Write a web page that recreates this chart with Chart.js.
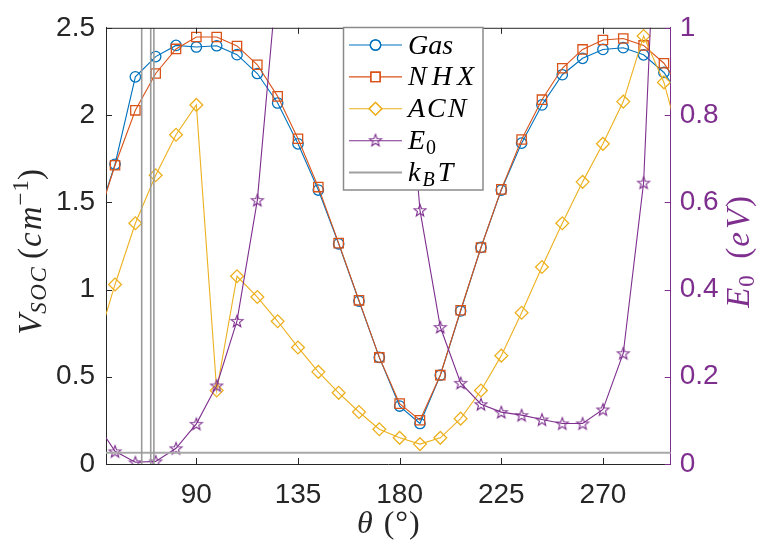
<!DOCTYPE html>
<html>
<head>
<meta charset="utf-8">
<script src="https://cdn.jsdelivr.net/npm/chart.js@4/dist/chart.umd.min.js"></script>
<style>html,body{margin:0;padding:0;background:#fff;overflow:hidden}canvas{display:block}</style>
</head>
<body>
<canvas id="c" width="761" height="544"></canvas>
<script>
// ---- data ----
const theta = [45,54,63,72,81,90,99,108,117,126,135,144,153,162,171,180,189,198,207,216,225,234,243,252,261,270,279,288,297,306];
const gas = [1.36,1.718,2.219,2.335,2.399,2.390,2.397,2.346,2.238,2.069,1.835,1.570,1.262,0.934,0.611,0.332,0.232,0.509,0.877,1.241,1.570,1.839,2.058,2.231,2.325,2.376,2.386,2.345,2.244,2.07];
const nhx = [1.35,1.712,2.027,2.238,2.379,2.447,2.447,2.396,2.288,2.107,1.864,1.587,1.266,0.938,0.611,0.346,0.251,0.509,0.881,1.241,1.574,1.860,2.088,2.268,2.376,2.430,2.439,2.399,2.297,2.12];
const acn = [0.644,1.029,1.380,1.655,1.887,2.058,0.421,1.076,0.957,0.818,0.668,0.528,0.408,0.298,0.199,0.150,0.114,0.150,0.260,0.421,0.621,0.867,1.129,1.380,1.617,1.835,2.077,2.453,2.187,1.76];
const e0 = [0.099,0.029,0.004,0.006,0.036,0.092,0.180,0.328,0.605,1.13,null,null,null,null,null,1.14,0.582,0.314,0.186,0.137,0.119,0.112,0.102,0.093,0.093,0.125,0.254,0.645,1.72,null];
const kbtX = [45, 306];
const kbtY = [0.026, 0.026];
const kbtLineX = [65.8, 69.8, 71.2];
const kbtLineY = [0, 1];
const xTicks = [90,135,180,225,270];
const xTickLabels = ['90','135','180','225','270'];
const yTicks = [0,0.5,1,1.5,2,2.5];
const yTickLabels = ['0','0.5','1','1.5','2','2.5'];
const y2Ticks = [0,0.2,0.4,0.6,0.8,1];
const y2TickLabels = ['0','0.2','0.4','0.6','0.8','1'];

// ---- styles ----
const C_GAS='#0072BD', C_NHX='#D95319', C_ACN='#EDB120', C_E0='#7E2F8E', C_KBT='#a8a8a8', C_AX='#262626';
const TICK_FONT = {family:'"Liberation Sans", Arial, sans-serif', size:28};
const SERIF = '"Liberation Serif", "Times New Roman", serif';

function makeStar(r, color){
  const s = 16; const c = document.createElement('canvas'); c.width = s; c.height = s;
  const g = c.getContext('2d'); g.strokeStyle = color; g.lineWidth = 1.1; g.beginPath();
  for (let i=0;i<10;i++){ const a = -Math.PI/2 + i*Math.PI/5; const rr = (i%2) ? r*0.42 : r;
    const px = s/2 + rr*Math.cos(a), py = s/2 + 0.6 + rr*Math.sin(a);
    if(i===0) g.moveTo(px,py); else g.lineTo(px,py); }
  g.closePath(); g.stroke(); return c;
}
const starImg = makeStar(6.3, C_E0);

const pts = (xs, ys) => xs.map((x,i)=>({x:x, y:ys[i]}));

const datasets = [
  {label:'Gas', data:pts(theta,gas), yAxisID:'y', borderColor:C_GAS, backgroundColor:'rgba(0,0,0,0)', borderWidth:1.1, pointStyle:'circle', pointRadius:5.2, pointBorderWidth:1.3, order:6},
  {label:'NHX', data:pts(theta,nhx), yAxisID:'y', borderColor:C_NHX, backgroundColor:'rgba(0,0,0,0)', borderWidth:1.1, pointStyle:'rect', pointRadius:6.6, pointBorderWidth:1.3, order:5},
  {label:'ACN', data:pts(theta,acn), yAxisID:'y', borderColor:C_ACN, backgroundColor:'rgba(0,0,0,0)', borderWidth:1.1, pointStyle:'rectRot', pointRadius:6.4, pointBorderWidth:1.3, order:4},
  {label:'E0', data:pts(theta,e0), yAxisID:'y2', borderColor:C_E0, backgroundColor:'rgba(0,0,0,0)', borderWidth:1.1, pointStyle:starImg, pointRadius:6, order:3},
  {label:'kBT', data:pts(kbtX,kbtY), yAxisID:'y2', borderColor:C_KBT, borderWidth:2, pointRadius:0, order:2}
];
kbtLineX.forEach(x => datasets.push({label:'kBTv', data:kbtLineY.map(y=>({x:x,y:y})), yAxisID:'y2', borderColor:'#9a9a9a', borderWidth:1.6, pointRadius:0, order:1}));

function setTicks(vals){ return s => { s.ticks = vals.map(v=>({value:v})); }; }

// ---- rich text helpers (parts may carry per-character extra spacing 'ls') ----
function expand(parts){
  const out = [];
  parts.forEach(p => {
    if (p.ls) { [...p.t].forEach((ch,i,arr) => out.push(Object.assign({}, p, {t:ch, sp:(i<arr.length-1 ? p.ls : 0) + (i===arr.length-1 ? (p.sp||0) : 0), ls:0}))); }
    else out.push(p);
  });
  return out;
}
function drawRich(ctx, parts, cx, cy, rot, color){
  parts = expand(parts);
  ctx.save(); ctx.translate(cx, cy); ctx.rotate(rot); ctx.fillStyle = color; ctx.textBaseline = 'alphabetic'; ctx.textAlign = 'left';
  let total = 0; const ws = [];
  parts.forEach(p => { ctx.font = (p.it?'italic ':'') + p.size + 'px ' + SERIF; const w = ctx.measureText(p.t).width + (p.sp||0); ws.push(w); total += w; });
  let x = -total/2; const base = parts[0].size*0.32;
  parts.forEach((p,i) => { ctx.font = (p.it?'italic ':'') + p.size + 'px ' + SERIF; ctx.fillText(p.t, x, base + (p.dy||0)); x += ws[i]; });
  ctx.restore();
}
function drawParts(ctx, parts, x, y, color){
  parts = expand(parts);
  ctx.save(); ctx.fillStyle = color; ctx.textBaseline='alphabetic'; ctx.textAlign='left';
  parts.forEach(p => { ctx.font = (p.it?'italic ':'') + p.size + 'px ' + SERIF;
    ctx.fillText(p.t, x, y + (p.dy||0)); x += ctx.measureText(p.t).width + (p.sp||0); });
  ctx.restore();
}

const decor = {
  id:'decor',
  afterDatasetsDraw(chart){
    const {ctx, chartArea:a, scales} = chart; const L = 6;
    ctx.save(); ctx.lineWidth = 1; ctx.strokeStyle = C_AX;
    ctx.beginPath(); ctx.moveTo(a.left, a.top+0.5); ctx.lineTo(a.right, a.top+0.5); ctx.stroke();
    xTicks.forEach(v => { const px = Math.round(scales.x.getPixelForValue(v))+0.5; ctx.beginPath();
      ctx.moveTo(px, a.bottom); ctx.lineTo(px, a.bottom-L); ctx.moveTo(px, a.top); ctx.lineTo(px, a.top+L); ctx.stroke(); });
    yTicks.forEach(v => { const py = Math.round(scales.y.getPixelForValue(v))+0.5; ctx.beginPath(); ctx.moveTo(a.left, py); ctx.lineTo(a.left+L, py); ctx.stroke(); });
    ctx.strokeStyle = C_E0;
    y2Ticks.forEach(v => { const py = Math.round(scales.y2.getPixelForValue(v))+0.5; ctx.beginPath(); ctx.moveTo(a.right, py); ctx.lineTo(a.right-L, py); ctx.stroke(); });
    ctx.restore();
  },
  afterDraw(chart){
    const {ctx, chartArea:a} = chart;
    const midY = (a.top + a.bottom)/2, midX = (a.left + a.right)/2;
    // axis titles
    drawRich(ctx, [{t:'V',it:true,size:33,sp:1},{t:'SOC',it:true,size:23,dy:5,ls:1.5},{t:' (',size:33,sp:1},{t:'cm',it:true,size:33,ls:2,sp:1},{t:'\u22121',size:23,dy:-13,ls:1},{t:')',size:33}], 30, midY+6, -Math.PI/2, C_AX);
    drawRich(ctx, [{t:'E',it:true,size:33,sp:1},{t:'0',size:23,dy:5},{t:'  (',size:33,sp:1},{t:'eV',it:true,size:33,ls:3,sp:2},{t:')',size:33}], 738, midY+6, -Math.PI/2, C_E0);
    drawRich(ctx, [{t:'\u03B8',it:true,size:32,sp:2},{t:' (\u00B0)',size:32,ls:1}], midX, 523, 0, C_AX);
    // legend
    const bx = 343.5, by = 27.5, bw = 139.5, bh = 162.5;
    ctx.save(); ctx.fillStyle = '#fff'; ctx.fillRect(bx, by, bw, bh); ctx.strokeStyle = '#8a8a8a'; ctx.lineWidth = 1.5; ctx.strokeRect(bx, by, bw, bh);
    const rows = [
      {c:C_GAS, m:'circle', parts:[{t:'Gas',it:true,size:28}]},
      {c:C_NHX, m:'rect', parts:[{t:'NHX',it:true,size:28,ls:5}]},
      {c:C_ACN, m:'rectRot', parts:[{t:'ACN',it:true,size:28,ls:2}]},
      {c:C_E0, m:'star', parts:[{t:'E',it:true,size:28,sp:1},{t:'0',size:20,dy:5}]},
      {c:'#a0a0a0', m:null, w:2, parts:[{t:'k',it:true,size:28,sp:2},{t:'B',it:true,size:20,dy:5,sp:3},{t:'T',it:true,size:28}]}
    ];
    rows.forEach((r,i) => {
      const y = 45 + 31.9*i; const x0 = 349, x1 = 402, xm = 375.5;
      ctx.strokeStyle = r.c; ctx.lineWidth = r.w || 1.1; ctx.beginPath(); ctx.moveTo(x0, y); ctx.lineTo(x1, y); ctx.stroke();
      if (r.m === 'star') ctx.drawImage(starImg, xm-8, y-8.6);
      else if (r.m) { ctx.lineWidth = 1.3; Chart.helpers.drawPoint(ctx, {pointStyle:r.m, radius: r.m==='circle'?5.2:(r.m==='rect'?6.6:6.4), borderWidth:1.3}, xm, y); ctx.stroke(); }
      drawParts(ctx, r.parts, 408, y + 8.5, '#000');
    });
    ctx.restore();
  }
};

new Chart(document.getElementById('c'), {
  type:'line',
  data:{datasets:datasets},
  options:{
    responsive:false, maintainAspectRatio:false, animation:false, devicePixelRatio:1,
    spanGaps:false,
    layout:{padding:{top:25,left:0,right:0,bottom:0}},
    plugins:{legend:{display:false}, tooltip:{enabled:false}},
    elements:{line:{tension:0}},
    scales:{
      x:{type:'linear', position:'bottom', min:50, max:300,
         grid:{display:false, drawTicks:false, tickLength:0}, border:{display:true, color:C_AX, width:1},
         ticks:{font:TICK_FONT, color:C_AX, padding:14, maxRotation:0, autoSkip:false, callback:(v,i)=>xTickLabels[i]},
         afterBuildTicks:setTicks(xTicks), afterFit:s=>{s.height = 80;}},
      y:{type:'linear', position:'left', min:0, max:2.5,
         grid:{display:false, drawTicks:false, tickLength:0}, border:{display:true, color:C_AX, width:1},
         ticks:{font:TICK_FONT, color:C_AX, padding:11, autoSkip:false, callback:(v,i)=>yTickLabels[i]},
         afterBuildTicks:setTicks(yTicks), afterFit:s=>{s.width = 106;}},
      y2:{type:'linear', position:'right', min:0, max:1,
         grid:{display:false, drawTicks:false, tickLength:0}, border:{display:true, color:C_E0, width:1},
         ticks:{font:TICK_FONT, color:C_E0, padding:9, autoSkip:false, callback:(v,i)=>y2TickLabels[i]},
         afterBuildTicks:setTicks(y2Ticks), afterFit:s=>{s.width = 90.3;}}
    }
  },
  plugins:[decor]
});
</script>
</body>
</html>
